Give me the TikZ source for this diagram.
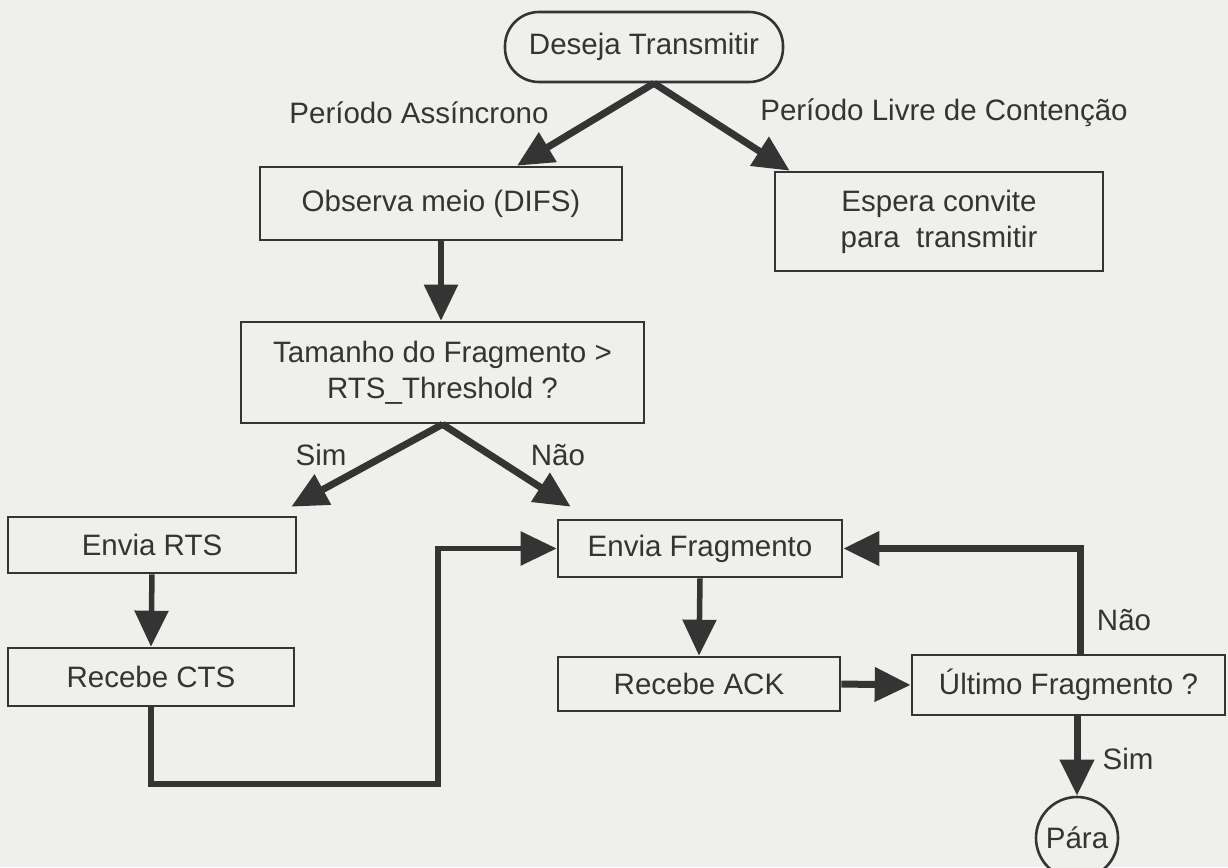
\documentclass[tikz,border=0pt]{standalone}
\usepackage{fontspec}
\setmainfont{Liberation Sans}
\usetikzlibrary{arrows.meta,shapes.geometric}

\definecolor{paper}{RGB}{239,239,236}
\definecolor{ink}{RGB}{52,52,52}

\tikzset{
  stepbox/.style={draw=ink, line width=2.6pt, fill=paper, text=ink,
    align=center, inner sep=0pt},
  terminal/.style={stepbox, rounded corners=34pt},
  flow/.style={draw=ink, line width=7pt,
    -{Triangle[length=36pt,width=33pt]}},
  flowthin/.style={flow, line width=5.5pt},
  lbl/.style={text=ink, inner sep=0pt}
}

\begin{document}
\begin{tikzpicture}[x=1pt,y=-1pt,font=\fontsize{29.5}{36}\selectfont]
  \fill[paper] (0,0) rectangle (1228,867);
  \useasboundingbox (0,0) rectangle (1228,867);

  % nodes
  \node[terminal, minimum width=278pt, minimum height=70pt] (start) at (644,47) {Deseja Transmitir};
  \node[stepbox, minimum width=362pt, minimum height=73pt] (observa) at (441,203.5) {Observa meio (DIFS)};
  \node[stepbox, minimum width=328pt, minimum height=99pt] (espera) at (939,221.5) {Espera convite\\para\ \ transmitir};
  \node[stepbox, minimum width=403pt, minimum height=101pt] (tamanho) at (442.5,372.5) {Tamanho do Fragmento >\\RTS\_Threshold ?};
  \node[stepbox, minimum width=288pt, minimum height=56pt] (rts) at (152,545) {Envia RTS};
  \node[stepbox, minimum width=286pt, minimum height=58pt] (cts) at (151,677) {Recebe CTS};
  \node[stepbox, minimum width=284pt, minimum height=57pt] (frag) at (700,548.5) {Envia Fragmento};
  \node[stepbox, minimum width=282pt, minimum height=54pt] (ack) at (699,684) {Recebe ACK};
  \node[stepbox, minimum width=313pt, minimum height=60pt] (ultimo) at (1068.5,685) {Último Fragmento ?};
  \node[stepbox, circle, minimum size=82pt] (para) at (1077,838) {Pára};

  % labels
  \node[lbl] (assinc) at (419,113) {Período Assíncrono};
  \node[lbl] (livre) at (944,113) {Período Livre de Contenção};
  \node[lbl] (sim1) at (321,455) {Sim};
  \node[lbl] (nao1) at (558,455) {Não};
  \node[lbl] (nao2) at (1124,620) {Não};
  \node[lbl] (sim2) at (1128,759) {Sim};

  % connectors
  \draw[flow] ([xshift=10pt]start.south) -- ([xshift=76pt]observa.north);
  \draw[flow] ([xshift=10pt]start.south) -- ([xshift=16pt]espera.north west);
  \draw[flowthin] (observa.south) -- (observa.south |- tamanho.north);
  \draw[flow] (tamanho.south) -- ([xshift=-6pt,yshift=9pt]rts.north east);
  \draw[flow] (tamanho.south) -- ([xshift=14pt,yshift=12pt]frag.north west);
  \draw[flowthin] (rts.south) -- (cts.north);
  \coordinate (loop) at (438,784);
  \draw[flowthin] (cts.south) |- (loop) |- (frag.west);
  \draw[flowthin] (frag.south) -- (ack.north);
  \draw[flow] (ack.east) -- (ultimo.west);
  \draw[flow] ([xshift=12pt]ultimo.north) |- (frag.east);
  \draw[flow] (para.north |- ultimo.south) -- (para.north);
\end{tikzpicture}
\end{document}
